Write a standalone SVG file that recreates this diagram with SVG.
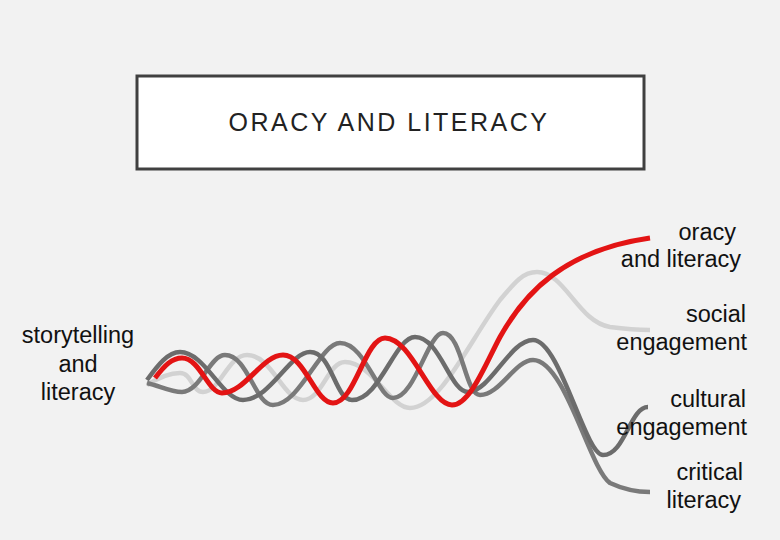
<svg xmlns="http://www.w3.org/2000/svg" width="780" height="540" viewBox="0 0 780 540">
<style>
.lbl{font-family:"Liberation Sans",Arial,sans-serif;font-size:23.5px;fill:#111}
.title{font-family:"Liberation Sans",Arial,sans-serif;font-size:25px;letter-spacing:2.5px;fill:#222}
.strand{fill:none;stroke-linecap:butt;stroke-linejoin:round}
</style>
<rect x="0" y="0" width="780" height="540" fill="#f2f2f2"/>
<g id="title">
<rect x="137" y="76" width="507" height="93" fill="#ffffff" stroke="#404040" stroke-width="3"/>
<text class="title" x="389" y="131" text-anchor="middle">ORACY AND LITERACY</text>
</g>
<g id="strands">
<path id="social" class="strand" stroke="#d2d2d2" stroke-width="4.5" d="M147,385 C158,378 168,373 180,373 C192,373 192,392 203,392 C220,392 228,355 247,355 C272,355 283,400 303,400 C322,400 328,362 345,362 C372,362 390,408 410,408 C440,408 470,340 500,300 C515,282 523,272 537,272 C565,272 578,322 610,327 C625,329 640,330 650,330"/>
<path id="critical" class="strand" stroke="#7a7a7a" stroke-width="4.5" d="M147,383 C160,386 170,392 182,392 C200,392 210,355 225,355 C248,355 255,405 273,405 C300,405 320,343 340,343 C365,343 378,398 393,398 C415,398 428,333 443,333 C462,333 465,395 480,395 C500,395 515,360 533,360 C565,360 590,470 610,483 C625,490 640,492 650,492"/>
<path id="cultural" class="strand" stroke="#6c6c6c" stroke-width="4.5" d="M147,380 C158,365 168,352 180,352 C205,352 222,400 243,400 C270,400 290,352 310,352 C332,352 335,400 352,400 C380,400 395,337 415,337 C440,337 450,392 468,392 C490,392 510,340 533,340 C560,340 585,455 603,455 C625,455 630,407 648,407"/>
<path id="oracy" class="strand" stroke="#e31414" stroke-width="5" d="M155,378 C165,365 172,358 182,358 C200,358 208,393 222,393 C245,393 262,355 283,355 C305,355 315,403 333,403 C355,403 365,338 385,338 C412,338 430,405 452,405 C470,405 485,365 500,337 C525,292 565,250 650,238"/>
</g>
<g id="label-storytelling">
<text class="lbl" x="78" y="343" text-anchor="middle">storytelling</text>
<text class="lbl" x="78" y="372" text-anchor="middle">and</text>
<text class="lbl" x="78" y="400" text-anchor="middle">literacy</text>
</g>
<g id="label-oracy">
<text class="lbl" x="736" y="240" text-anchor="end">oracy</text>
<text class="lbl" x="741" y="267" text-anchor="end">and literacy</text>
</g>
<g id="label-social">
<text class="lbl" x="746" y="322" text-anchor="end">social</text>
<text class="lbl" x="747" y="350" text-anchor="end">engagement</text>
</g>
<g id="label-cultural">
<text class="lbl" x="746" y="407" text-anchor="end">cultural</text>
<text class="lbl" x="747" y="435" text-anchor="end">engagement</text>
</g>
<g id="label-critical">
<text class="lbl" x="743" y="480" text-anchor="end">critical</text>
<text class="lbl" x="741" y="508" text-anchor="end">literacy</text>
</g>
</svg>
